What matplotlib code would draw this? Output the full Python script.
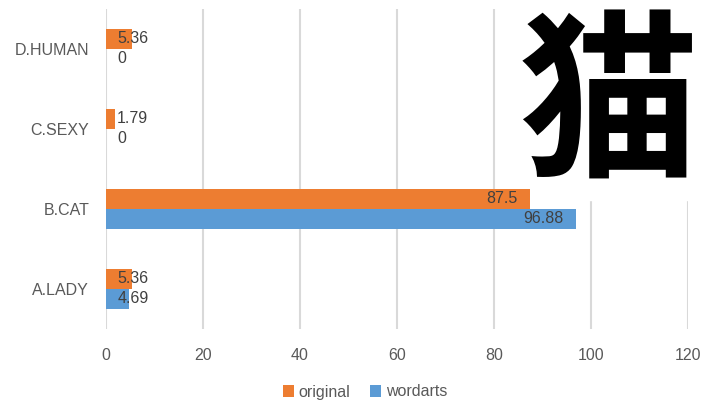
import matplotlib.pyplot as plt
from matplotlib.patches import Rectangle

categories = ['A.LADY', 'B.CAT', 'C.SEXY', 'D.HUMAN']
original = [5.36, 87.5, 1.79, 5.36]
wordarts = [4.69, 96.88, 0, 0]
xticks = [0, 20, 40, 60, 80, 100, 120]

orange = '#ED7D31'
blue = '#5B9BD5'
grey = '#595959'

plt.rcParams['font.family'] = ['Liberation Sans', 'DejaVu Sans']

fig = plt.figure(figsize=(7.18, 4.05), dpi=100)
ax = fig.add_axes([0.1476, 0.1877, 0.958 - 0.1476, 0.978 - 0.1877])

y = list(range(len(categories)))
h = 0.25
b1 = ax.barh([i + h / 2 for i in y], original, height=h, color=orange, label='original', zorder=2)
b2 = ax.barh([i - h / 2 for i in y], wordarts, height=h, color=blue, label='wordarts', zorder=2)

# labels: inside end, but kept right of the axis for short bars
for bars, vals in ((b1, original), (b2, wordarts)):
    for bar, v in zip(bars, vals):
        yc = bar.get_y() + bar.get_height() / 2
        txt = str(v).rstrip('0').rstrip('.') if v else '0'
        if v < 15:
            ax.text(2.3, yc, txt, ha='left', va='center', fontsize=11.5, color='#404040', zorder=3)
        else:
            ax.text(v - 2.6, yc, txt, ha='right', va='center', fontsize=11.5, color='#404040', zorder=3)

ax.set_xlim(0, 120)
ax.set_ylim(-0.5, 3.5)
ax.set_xticks(xticks)
ax.set_yticks(y)
ax.set_yticklabels(categories)
ax.tick_params(axis='both', length=0, labelsize=11.5, labelcolor=grey)
ax.tick_params(axis='x', pad=14)
ax.tick_params(axis='y', pad=12)
ax.grid(axis='x', color='#D9D9D9', linewidth=1.5, zorder=0)
ax.set_axisbelow(True)
for s in ax.spines.values():
    s.set_visible(False)

fig.legend(handles=[b1, b2], loc='center', bbox_to_anchor=(365 / 718, 1 - 392 / 405), ncol=2,
           frameon=False, fontsize=11.5, labelcolor=grey, handlelength=0.7, handleheight=0.7,
           handletextpad=0.3, columnspacing=1.2, borderpad=0)

# pasted picture of the character, on white (above grid, below bars)
ax.add_patch(Rectangle((500 / 718, 1 - 200 / 405), 218 / 718, 200 / 405,
                       transform=fig.transFigure, color='white', zorder=1, clip_on=False))
fig.text(609 / 718, 1 - 164 / 405, '猫', ha='center', va='baseline', fontsize=130,
         fontweight='bold', family=['Noto Sans CJK SC'], color='black', zorder=6)

fig.savefig('out.png', dpi=100)
